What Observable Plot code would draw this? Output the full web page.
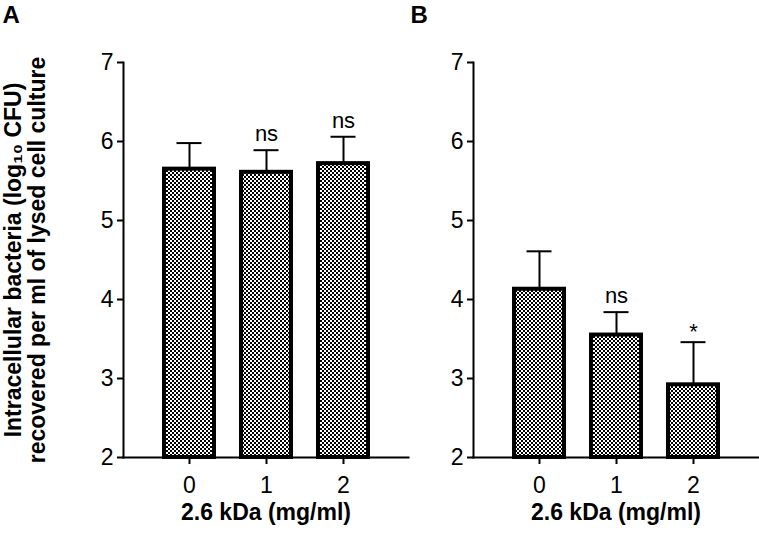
<!DOCTYPE html>
<html><head><meta charset="utf-8">
<script src="https://cdn.jsdelivr.net/npm/d3@7"></script>
<script src="https://cdn.jsdelivr.net/npm/@observablehq/plot@0.6"></script>
<style>
body{margin:0;background:#fff;}
#wrap{position:relative;width:759px;height:535px;font-family:"Liberation Sans",Arial,sans-serif;}
#wrap svg{position:absolute;top:0;}
</style></head><body><div id="wrap"></div>
<script>
const doses = ["0", "1", "2"];
const meanA = [5.65, 5.61, 5.72];
const upperA = [5.98, 5.89, 6.06];
const sigA = ["", "ns", "ns"];
const meanB = [4.13, 3.55, 2.92];
const upperB = [4.61, 3.84, 3.46];
const sigB = ["", "ns", "*"];
const yTicks = [2, 3, 4, 5, 6, 7];
const xLabel = "2.6 kDa (mg/ml)";
const yLabel = "Intracellular bacteria (log\u2081\u2080 CFU)\nrecovered per ml of lysed cell culture";

function addPattern(svg, id) {
  const ns = "http://www.w3.org/2000/svg";
  const defs = document.createElementNS(ns, "defs");
  defs.innerHTML = `<pattern id="${id}" width="4" height="4" patternUnits="userSpaceOnUse"><rect width="4" height="4" fill="#fff"/><rect width="2" height="2" fill="#000"/><rect x="2" y="2" width="2" height="2" fill="#000"/></pattern>`;
  svg.insertBefore(defs, svg.firstChild);
}

function panel(means, uppers, sigs, opts) {
  const data = doses.map((d, i) => ({dose: d, mean: means[i], upper: uppers[i], sig: sigs[i]}));
  const marks = [
    Plot.ruleX(data, {x: "dose", y1: "mean", y2: "upper", stroke: "#000", strokeWidth: 2}),
    Plot.tickY(data, {x: "dose", y: "upper", stroke: "#000", strokeWidth: 2, insetLeft: 14.5, insetRight: 14.5}),
    Plot.barY(data, {x: "dose", y1: 2, y2: "mean", fill: `url(#${opts.id})`, stroke: "#000", strokeWidth: 4, insetLeft: 2, insetRight: 2}),
    Plot.axisY({ticks: yTicks, tickFormat: "d", tickSize: 6, tickPadding: 4, strokeWidth: 2, label: null, fontSize: 23}),
    Plot.axisX({tickSize: 7, tickPadding: 12, strokeWidth: 2, label: null, fontSize: 23}),
    Plot.frame({anchor: "left", stroke: "#000", strokeWidth: 2}),
    Plot.frame({anchor: "bottom", stroke: "#000", strokeWidth: 2}),
    Plot.text(data.filter(d => d.sig === "ns"), {x: "dose", y: "upper", text: "sig", dy: -16, fontSize: 22}),
    Plot.text(data.filter(d => d.sig === "*"), {x: "dose", y: "upper", text: "sig", dy: -10, fontSize: 22}),
    Plot.text([xLabel], {frameAnchor: "bottom", dy: 62, fontWeight: "bold", fontSize: 23}),
    Plot.text([opts.letter], {frameAnchor: "top-left", textAnchor: "start", lineAnchor: "middle", dx: opts.letterDx, dy: -47, fontWeight: "bold", fontSize: 24})
  ];
  if (opts.yLabel) {
    marks.push(Plot.text([opts.yLabel], {frameAnchor: "left", textAnchor: "middle", rotate: -90, dx: -98, fontWeight: "bold", fontSize: 23, lineHeight: 1.05}));
  }
  const svg = Plot.plot({
    width: opts.width, height: 535,
    marginLeft: opts.marginLeft, marginRight: opts.marginRight, marginTop: 62, marginBottom: 78,
    style: {fontFamily: "'Liberation Sans', Arial, sans-serif", fontSize: "20px", color: "#000", background: "transparent", overflow: "visible"},
    x: {type: "band", domain: doses, paddingInner: 0.3, paddingOuter: 0.5},
    y: {domain: [2, 7]},
    marks
  });
  addPattern(svg, opts.id);
  svg.style.left = opts.left + "px";
  return svg;
}

const wrap = document.getElementById("wrap");
wrap.appendChild(panel(meanA, upperA, sigA, {id: "checkA", width: 410, left: 0, marginLeft: 123, marginRight: 2, letter: "A", letterDx: -121, yLabel}));
wrap.appendChild(panel(meanB, upperB, sigB, {id: "checkB", width: 354, left: 405, marginLeft: 68, marginRight: 1, letter: "B", letterDx: -63}));
</script>
</body></html>
